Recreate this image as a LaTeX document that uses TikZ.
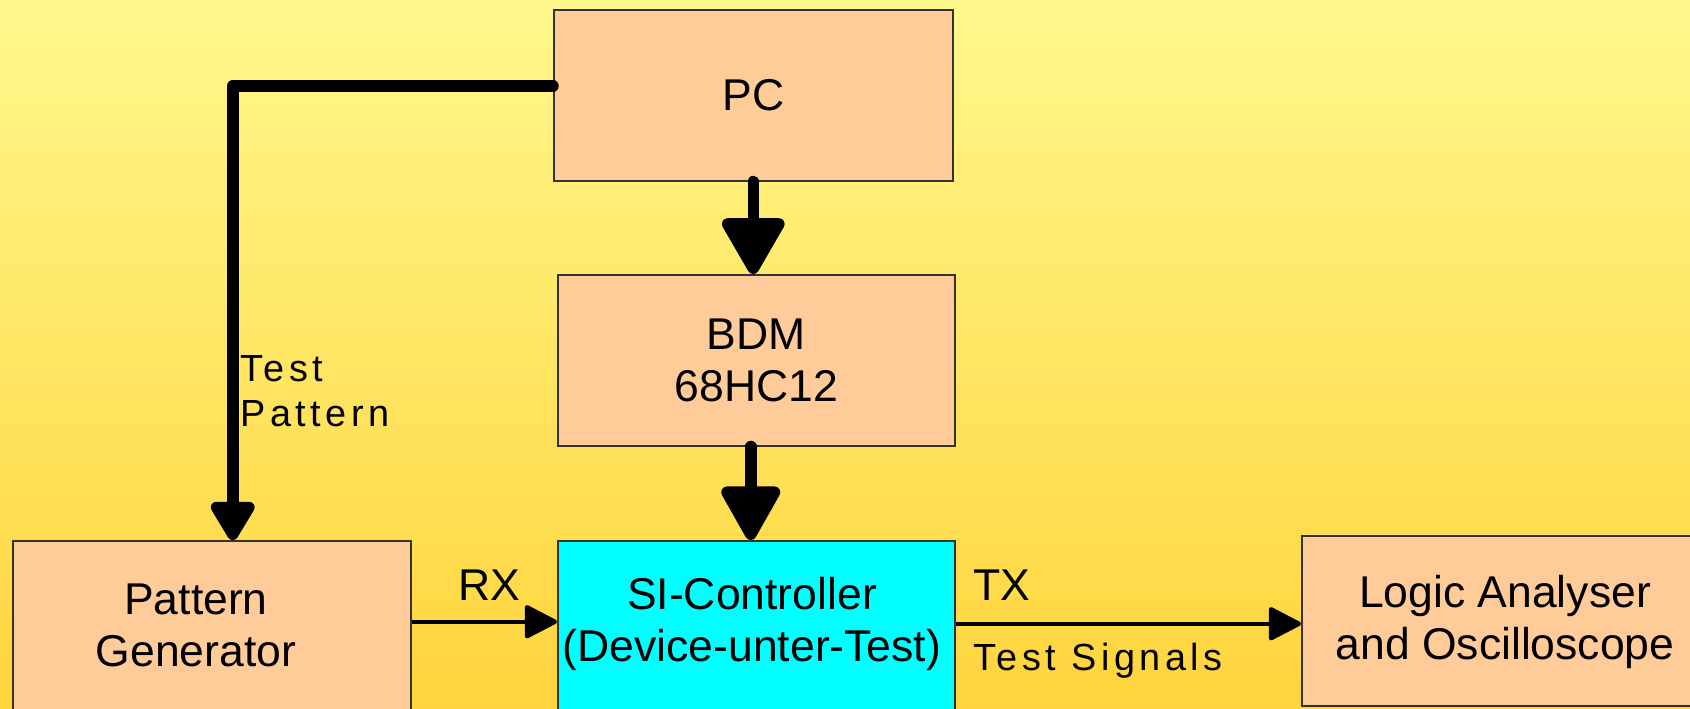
\documentclass[tikz,border=0pt]{standalone}
\usepackage{fontspec}
\setmainfont{Liberation Sans}
\usetikzlibrary{arrows.meta,calc}
\definecolor{peach}{HTML}{FFCC99}
\definecolor{aqua}{RGB}{0,255,255}
\definecolor{bgtop}{HTML}{FFF88C}
\definecolor{bgbot}{HTML}{FFD43C}
\begin{document}
\begin{tikzpicture}[x=0.5pt,y=-0.5pt,
  box/.style={draw=black!80, line width=0.75pt, fill=peach, inner sep=0pt, anchor=north west},
  lbl/.style={font=\fontsize{22.25}{26}\selectfont, align=center, inner sep=0pt},
  small/.style={font=\fontsize{18.9}{22.5}\selectfont\addfontfeatures{LetterSpace=12}, align=left, inner sep=0pt},
  bigarrow/.style={line width=5.75pt, line cap=round, line join=round, -{Triangle[width=34pt,length=31pt,round]}},
  thinarrow/.style={line width=2.25pt, -{Triangle[width=17.5pt,length=17.5pt,round]}}]
\useasboundingbox (0,0) rectangle (1690,708);
\clip (0,0) rectangle (1690,708);
\shade[top color=bgtop,bottom color=bgbot] (0,0) rectangle (1690,708);
% boxes
\node[box, lbl, minimum width=199.5pt, minimum height=85.5pt] (pc) at (553,9) {PC};
\node[box, lbl, minimum width=198.5pt, minimum height=85.5pt] (bdm) at (557,274) {BDM\\68HC12};
\node[box, minimum width=199pt, minimum height=100pt] (pg) at (12,540) {};
\node[box, fill=aqua, minimum width=198.5pt, minimum height=100pt] (si) at (557,540) {};
\node[box, minimum width=210pt, minimum height=85pt] (la) at (1301,535) {};
% box texts
\node[lbl] (pgt) at (196,625) {Pattern\\Generator};
\node[lbl] (sit) at (752,624) {SI-Controller\\(Device-unter-Test)};
\node[lbl] (lat) at (1505,622) {Logic Analyser\\and Oscilloscope};
% labels
\node[lbl, anchor=base west] (rx) at (458,600) {RX};
\node[lbl, anchor=base west] (tx) at (973,600) {TX};
\node[small, anchor=base west] (ts) at (973,670) {Test Signals};
\node[small, anchor=north west] (tp) at (240,355) {Test\\Pattern};
% connectors
\draw[bigarrow, -{Triangle[width=24.5pt,length=22pt,round]}] ([yshift=4.75pt]pc.west) -| ([xshift=10.5pt]pg.north);
\draw[bigarrow] (pc.south) -- (pc.south |- bdm.north);
\draw[bigarrow, -{Triangle[width=32pt,length=30pt,round]}] ([xshift=-2.75pt]bdm.south) -- ([xshift=-2.75pt]bdm.south |- si.north);
\draw[thinarrow] ([yshift=9.5pt]pg.east) -- ([yshift=9.5pt]si.west);
\draw[thinarrow] ([yshift=8.5pt]si.east) -- ([yshift=8.5pt]si.east -| la.west);
\end{tikzpicture}
\end{document}
